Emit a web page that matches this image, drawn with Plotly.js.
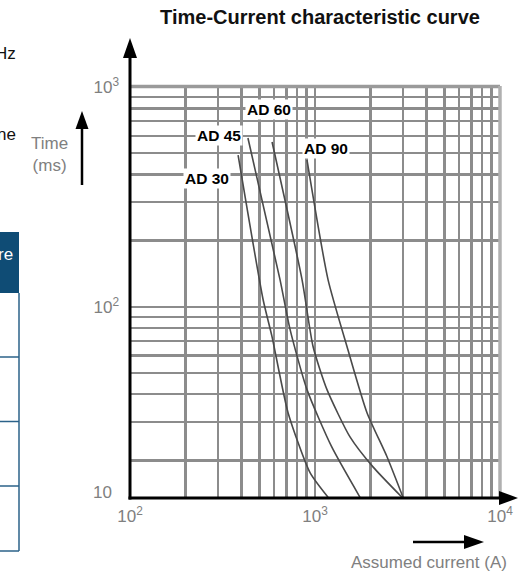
<!DOCTYPE html>
<html>
<head>
<meta charset="utf-8">
<script src="https://cdn.plot.ly/plotly-3.0.1.min.js"></script>
<style>
  html, body { margin: 0; padding: 0; background: #fff; }
  #chart { width: 527px; height: 573px; }
</style>
</head>
<body>
<div id="chart"></div>
<script>
// ---- data ----
const chartTitle = 'Time-Current characteristic curve';
const xAxisLabel = 'Assumed current (A)';
const yAxisLabel = 'Time<br>(ms)';

// grid values (log scale)
const gridCurrent = [100, 200, 300, 400, 500, 600, 700, 800, 900, 1000,
                     2000, 3000, 4000, 5000, 6000, 7000, 8000, 9000, 10000];
const gridTime = [20, 30, 40, 50, 60, 70, 80, 90, 100,
                  200, 300, 400, 500, 600, 700, 800, 900, 1000];
const currentTickLabels = {100: '10<sup>2</sup>', 1000: '10<sup>3</sup>', 10000: '10<sup>4</sup>'};
const timeTickLabels = {100: '10<sup>2</sup>', 1000: '10<sup>3</sup>'};
const bottomTimeLabel = '10';

// curves
const seriesNames = ['AD 30', 'AD 45', 'AD 60', 'AD 90'];
const ad30Current = [384, 524, 586, 715, 940, 1176];
const ad30Time    = [490, 108, 73, 33, 17.6, 13.6];
const ad45Current = [434, 647, 733, 905, 1230, 1751];
const ad45Time    = [586, 133, 79, 42, 23.1, 13.6];
const ad60Current = [586, 851, 976, 1161, 1546, 2058, 2953];
const ad60Time    = [562, 133, 66, 42, 25.6, 18.7, 13.6];
const ad90Current = [905, 1176, 1489, 1910, 2450, 2990];
const ad90Time    = [466, 133, 66, 33, 20.8, 13.6];

const yBottom = 13.5;

// ---- build ----
const curveStyle = {color: '#4a4a4a', width: 1.6, shape: 'spline', smoothing: 0.6};
const curves = [
  [ad30Current, ad30Time], [ad45Current, ad45Time],
  [ad60Current, ad60Time], [ad90Current, ad90Time]
].map((c, i) => ({
  type: 'scatter', mode: 'lines', name: seriesNames[i],
  x: c[0], y: c[1], line: curveStyle, hoverinfo: 'x+y+name'
}));

const grayFont = {family: 'Liberation Sans, Arial, sans-serif', size: 17, color: '#808080'};
const gridColor = '#8c8c8c';

// pixel -> paper helpers (plot area 130..500 x, 87..498 y)
const L = 130, R = 500, T = 87, B = 498;
const px = v => (v - L) / (R - L);
const py = v => (B - v) / (B - T);

const labelPos = [ // [label, x px, y px]
  ['AD 30', 207, 178], ['AD 45', 219, 135.5], ['AD 60', 269, 109], ['AD 90', 326, 148]
];

const annotations = labelPos.map(p => ({
  text: '<b>' + p[0] + '</b>', xref: 'paper', yref: 'paper',
  x: px(p[1]), y: py(p[2]), xanchor: 'center', yanchor: 'middle',
  showarrow: false, bgcolor: '#ffffff', borderpad: 1,
  font: {family: 'Liberation Sans, Arial, sans-serif', size: 15.5, color: '#000'}
}));

annotations.push(
  {text: yAxisLabel, xref: 'paper', yref: 'paper', x: px(49), y: py(154),
   xanchor: 'center', yanchor: 'middle', showarrow: false, align: 'center', font: grayFont},
  {text: xAxisLabel, xref: 'paper', yref: 'paper', x: px(429), y: py(562),
   xanchor: 'center', yanchor: 'middle', showarrow: false, font: grayFont},
  {text: bottomTimeLabel, xref: 'paper', yref: 'paper', x: px(114), y: py(492),
   xanchor: 'right', yanchor: 'middle', showarrow: false, font: grayFont},
  // fragments of neighbouring content at the left edge
  {text: 'Hz', xref: 'paper', yref: 'paper', x: px(18), y: py(53),
   xanchor: 'right', yanchor: 'middle', showarrow: false,
   font: {family: 'Liberation Sans, Arial, sans-serif', size: 17, color: '#111'}},
  {text: 'ne', xref: 'paper', yref: 'paper', x: px(18), y: py(134),
   xanchor: 'right', yanchor: 'middle', showarrow: false,
   font: {family: 'Liberation Sans, Arial, sans-serif', size: 17, color: '#111'}},
  {text: 're', xref: 'paper', yref: 'paper', x: px(15), y: py(255),
   xanchor: 'right', yanchor: 'middle', showarrow: false,
   font: {family: 'Liberation Sans, Arial, sans-serif', size: 17, color: '#ffffff'}}
);

const tri = (pts) => 'M ' + pts.map(p => px(p[0]) + ',' + py(p[1])).join(' L ') + ' Z';
const blk = {color: '#000', width: 3};
const tableBlue = '#0f4c75';
const tableLine = {color: '#2b6289', width: 1.5};

const shapes = [
  // top & right heavier grid edge
  {type: 'line', xref: 'paper', yref: 'paper', x0: 0, x1: 1, y0: py(86.5), y1: py(86.5),
   line: {color: '#9a9a9a', width: 3.5}},
  {type: 'line', xref: 'paper', yref: 'paper', x0: 1, x1: 1, y0: 0, y1: py(86),
   line: {color: '#b0b0b0', width: 3.5}},
  // axes
  {type: 'line', xref: 'paper', yref: 'paper', x0: 0, x1: 0, y0: py(499.5), y1: py(52), line: blk},
  {type: 'path', xref: 'paper', yref: 'paper', path: tri([[130, 38], [123, 58], [137, 58]]),
   fillcolor: '#000', line: {width: 0}},
  {type: 'line', xref: 'paper', yref: 'paper', x0: px(128.5), x1: px(505), y0: py(498), y1: py(498), line: blk},
  {type: 'path', xref: 'paper', yref: 'paper', path: tri([[518, 498], [499, 491], [499, 505]]),
   fillcolor: '#000', line: {width: 0}},
  // small "Time" arrow
  {type: 'line', xref: 'paper', yref: 'paper', x0: px(82), x1: px(82), y0: py(185), y1: py(125),
   line: {color: '#000', width: 2.5}},
  {type: 'path', xref: 'paper', yref: 'paper', path: tri([[82, 111], [75.5, 129], [88.5, 129]]),
   fillcolor: '#000', line: {width: 0}},
  // small "current" arrow
  {type: 'line', xref: 'paper', yref: 'paper', x0: px(413), x1: px(468), y0: py(542), y1: py(542),
   line: {color: '#000', width: 2.5}},
  {type: 'path', xref: 'paper', yref: 'paper', path: tri([[484, 542], [464, 535], [464, 549]]),
   fillcolor: '#000', line: {width: 0}},
  // table fragment
  {type: 'rect', xref: 'paper', yref: 'paper', x0: px(-5), x1: px(19), y0: py(232), y1: py(293),
   fillcolor: tableBlue, line: {width: 0}},
  {type: 'line', xref: 'paper', yref: 'paper', x0: px(19), x1: px(19), y0: py(293), y1: py(551), line: tableLine},
  {type: 'line', xref: 'paper', yref: 'paper', x0: px(-5), x1: px(19), y0: py(357), y1: py(357), line: tableLine},
  {type: 'line', xref: 'paper', yref: 'paper', x0: px(-5), x1: px(19), y0: py(421.5), y1: py(421.5), line: tableLine},
  {type: 'line', xref: 'paper', yref: 'paper', x0: px(-5), x1: px(19), y0: py(486), y1: py(486), line: tableLine},
  {type: 'line', xref: 'paper', yref: 'paper', x0: px(-5), x1: px(19), y0: py(551), y1: py(551), line: tableLine}
];

const layout = {
  width: 527, height: 573,
  margin: {l: L, r: 527 - R, t: T, b: 573 - B, pad: 0},
  paper_bgcolor: '#fff', plot_bgcolor: '#fff',
  showlegend: false,
  title: {
    text: '<b>' + chartTitle + '</b>', xref: 'container', yref: 'container',
    x: 320 / 527, y: 1 - 17 / 573, xanchor: 'center', yanchor: 'middle',
    font: {family: 'Liberation Sans, Arial, sans-serif', size: 20, color: '#111'}
  },
  xaxis: {
    type: 'log', range: [2, 4], fixedrange: true,
    tickmode: 'array', tickvals: gridCurrent,
    ticktext: gridCurrent.map(v => currentTickLabels[v] || ''),
    ticks: '', showline: false, zeroline: false,
    showgrid: true, gridcolor: gridColor, gridwidth: 2.4,
    tickfont: grayFont, ticklabelstandoff: 6
  },
  yaxis: {
    type: 'log', range: [Math.log10(yBottom), 3], fixedrange: true,
    tickmode: 'array', tickvals: gridTime,
    ticktext: gridTime.map(v => timeTickLabels[v] || ''),
    ticks: '', showline: false, zeroline: false,
    showgrid: true, gridcolor: gridColor, gridwidth: 2.4,
    tickfont: grayFont, ticklabelstandoff: 10
  },
  annotations: annotations,
  shapes: shapes
};

Plotly.newPlot('chart', curves, layout, {displayModeBar: false, staticPlot: true});
</script>
</body>
</html>
